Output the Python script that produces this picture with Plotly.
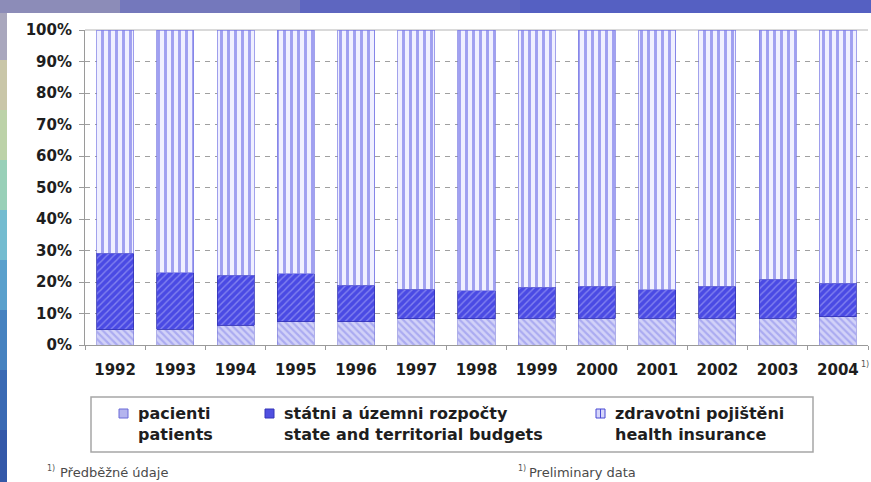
import plotly.graph_objects as go

years = ["1992", "1993", "1994", "1995", "1996", "1997", "1998",
         "1999", "2000", "2001", "2002", "2003", "2004"]
pacienti = [4.8, 5.0, 6.3, 7.4, 7.4, 8.3, 8.3, 8.5, 8.5, 8.5, 8.5, 8.5, 9.0]
statni = [24.3, 18.0, 15.9, 15.3, 11.6, 9.4, 8.9, 9.8, 10.2, 9.0, 10.2, 12.3, 10.6]
pojisteni = [70.9, 77.0, 77.8, 77.3, 81.0, 82.3, 82.8, 81.7, 81.3, 82.5, 81.3, 79.2, 80.4]
y_ticks = [0, 10, 20, 30, 40, 50, 60, 70, 80, 90, 100]

W, H = 871, 482
ML, MR, MT, MB = 85, 3, 30, 137
PW = W - ML - MR
PH = H - MT - MB


def px(x):
    return (x - ML) / PW


def py(y):
    return (H - MB - y) / PH


BOLD = "DejaVu Sans"
TXT = "#1e1e1e"

fig = go.Figure()
fig.add_trace(go.Bar(
    x=years, y=pacienti, name="pacienti",
    marker=dict(color="#c4c4f2",
                pattern=dict(shape="\\", bgcolor="#d2d2f8", fgcolor="#8484ea",
                             size=5, solidity=0.45),
                line=dict(color="#7a7ad8", width=0.6)),
))
fig.add_trace(go.Bar(
    x=years, y=statni, name="statni",
    marker=dict(color="#4c4ce4",
                pattern=dict(shape="/", bgcolor="#4a4ae4", fgcolor="#bcbcfa",
                             size=5, solidity=0.28),
                line=dict(color="#3232b4", width=0.8)),
))
fig.add_trace(go.Bar(
    x=years, y=pojisteni, name="pojisteni",
    marker=dict(color="#f4f4ff",
                pattern=dict(shape="|", bgcolor="#f0f0ff", fgcolor="#5050e2",
                             size=7, solidity=0.42),
                line=dict(color="#7a7ae4", width=0.7)),
))

shapes = []
# slide background: white chart card over a blue slide
shapes.append(dict(type="rect", xref="paper", yref="paper", layer="below",
                   x0=px(7), x1=px(W + 2), y0=py(H + 2), y1=py(13),
                   fillcolor="white", line=dict(width=0)))
# left strip bands
bands = [(0, 60, "#a9a7bd"), (60, 110, "#c9c6a8"), (110, 160, "#bcd2a8"),
         (160, 210, "#98d0b8"), (210, 260, "#74bcd0"), (260, 310, "#5aa0cc"),
         (310, 370, "#4682c0"), (370, 430, "#3a6ab4"), (430, 482, "#3458a8")]
for y0, y1, c in bands:
    shapes.append(dict(type="rect", xref="paper", yref="paper", layer="below",
                       x0=px(0), x1=px(7), y0=py(y1), y1=py(y0),
                       fillcolor=c, line=dict(width=0)))
# top strip bands
tops = [(0, 120, "#8c8cb8"), (120, 300, "#7478bc"), (300, 520, "#5e66c0"),
        (520, 871, "#5560c2")]
for x0, x1, c in tops:
    shapes.append(dict(type="rect", xref="paper", yref="paper", layer="below",
                       x0=px(x0), x1=px(x1), y0=py(13), y1=py(0),
                       fillcolor=c, line=dict(width=0)))
# top frame line at 100%
shapes.append(dict(type="line", xref="paper", yref="paper",
                   x0=0, x1=1, y0=1, y1=1, layer="below",
                   line=dict(color="#b4b4b4", width=1)))
# legend box
shapes.append(dict(type="rect", xref="paper", yref="paper",
                   x0=px(91), x1=px(813), y0=py(452), y1=py(397),
                   fillcolor="rgba(0,0,0,0)", line=dict(color="#a6a6a6", width=1.5)))
# legend swatches
sw = [(119, "#b4b4ee", "#6a6ad8"), (265, "#5050e0", "#3434b8"), (596, "#d6d6fa", "#4848d4")]
for x0, fc, lc in sw:
    shapes.append(dict(type="rect", xref="paper", yref="paper",
                       x0=px(x0), x1=px(x0 + 9), y0=py(418), y1=py(409),
                       fillcolor=fc, line=dict(color=lc, width=1)))
shapes.append(dict(type="line", xref="paper", yref="paper",
                   x0=px(600.5), x1=px(600.5), y0=py(418), y1=py(409),
                   line=dict(color="#4848d4", width=1)))

annotations = []
leg = [(136, "pacienti<br>patients"),
       (282, "státni a územni rozpočty<br>state and territorial budgets"),
       (613, "zdravotni pojištěni<br>health insurance")]
for x0, t in leg:
    annotations.append(dict(xref="paper", yref="paper", x=px(x0), y=py(424),
                            xanchor="left", yanchor="middle", align="left",
                            showarrow=False, text="<b>" + t + "</b>",
                            font=dict(family=BOLD, size=16, color=TXT)))
# superscript mark after 2004
annotations.append(dict(xref="paper", yref="paper", x=px(859), y=py(364),
                        xanchor="left", yanchor="middle", showarrow=False,
                        text="1)", font=dict(family="DejaVu Sans", size=8, color="#555")))
# footnotes
for xs, xt, t in [(45, 58, "Předběžné údaje"), (516, 527, "Preliminary data")]:
    annotations.append(dict(xref="paper", yref="paper", x=px(xs), y=py(468),
                            xanchor="left", yanchor="middle", showarrow=False,
                            text="1)", font=dict(family="DejaVu Sans", size=8, color="#555")))
    annotations.append(dict(xref="paper", yref="paper", x=px(xt), y=py(473),
                            xanchor="left", yanchor="middle", showarrow=False,
                            text=t, font=dict(family="DejaVu Sans", size=13, color="#4a4a4a")))

fig.update_layout(
    width=W, height=H,
    margin=dict(l=ML, r=MR, t=MT, b=MB),
    paper_bgcolor="#5560c2", plot_bgcolor="rgba(0,0,0,0)",
    barmode="stack", bargap=0.385, showlegend=False,
    shapes=shapes, annotations=annotations,
)
fig.update_xaxes(
    type="category", range=[-0.5, 12.5],
    showline=True, linecolor="#9a9a9a", linewidth=1,
    ticks="outside", tickson="boundaries", ticklen=4, tickcolor="#9a9a9a",
    showgrid=False,
    tickfont=dict(family=BOLD, size=15, color=TXT, weight="bold"),
    ticklabelstandoff=11,
)
fig.update_yaxes(
    range=[0, 100], tickvals=y_ticks, ticktext=[f"{v}%" for v in y_ticks],
    showline=True, linecolor="#9a9a9a", linewidth=1,
    ticks="outside", ticklen=5, tickcolor="#9a9a9a",
    showgrid=True, gridcolor="#a0a0a0", gridwidth=1, griddash="5px,5px",
    zeroline=False,
    tickfont=dict(family=BOLD, size=15, color=TXT, weight="bold"),
    ticklabelstandoff=4,
)

fig.write_html("out.html")
